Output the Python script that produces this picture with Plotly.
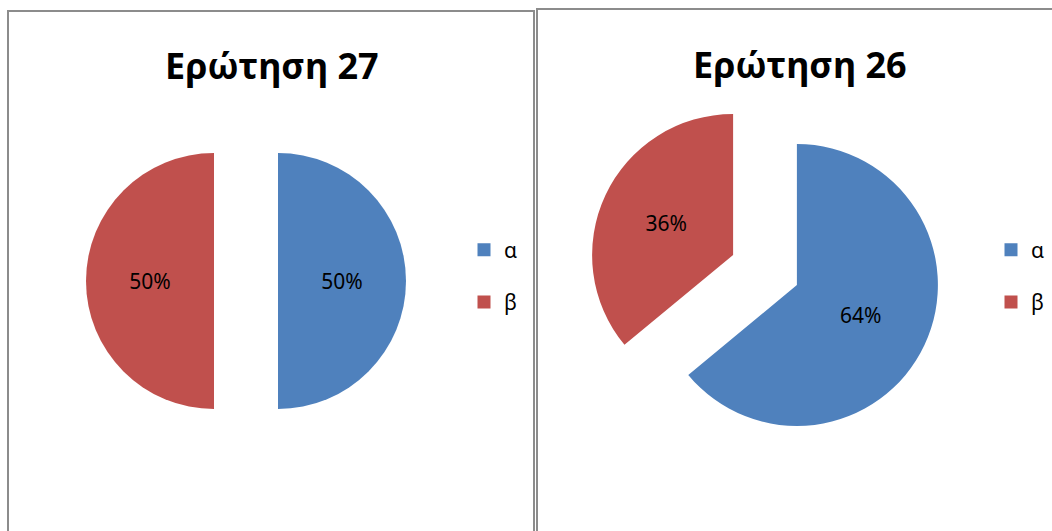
import plotly.graph_objects as go

labels = ["α", "β"]
q27_values = [50, 50]
q26_values = [64, 36]
titles = ["Ερώτηση 27", "Ερώτηση 26"]
colors = ["#4F81BD", "#C0504D"]

W, H = 1052, 531

def px_x(v):
    return v / W

def px_y(v):
    return 1 - v / H

fig = go.Figure()

pull = 0.25
label_font = dict(family="Noto Sans", size=21, color="#000000")

# Pie 1 (Ερώτηση 27)
r1 = 128
cx1, cy1 = 246, 281
half1 = r1 * (1 + pull)
fig.add_trace(go.Pie(
    labels=labels, values=q27_values, sort=False, direction="clockwise", rotation=0,
    pull=[pull, pull],
    marker=dict(colors=colors),
    texttemplate="%{percent:.0%}", textposition="inside", insidetextorientation="horizontal",
    textfont=label_font,
    domain=dict(x=[px_x(cx1 - half1), px_x(cx1 + half1)],
                y=[px_y(cy1 + half1), px_y(cy1 - half1)]),
    showlegend=False, hoverinfo="label+percent",
))

# Pie 2 (Ερώτηση 26)
r2 = 141
cx2, cy2 = 765, 270
half2 = r2 * (1 + pull)
fig.add_trace(go.Pie(
    labels=labels, values=q26_values, sort=False, direction="clockwise", rotation=0,
    pull=[pull, pull],
    marker=dict(colors=colors),
    texttemplate="%{percent:.0%}", textposition="inside", insidetextorientation="horizontal",
    textfont=label_font,
    domain=dict(x=[px_x(cx2 - half2), px_x(cx2 + half2)],
                y=[px_y(cy2 + half2), px_y(cy2 - half2)]),
    showlegend=False, hoverinfo="label+percent",
))

# Legend entries (one set per chart panel)
for legend_id in ["legend", "legend2"]:
    for lab, col in zip(labels, colors):
        fig.add_trace(go.Scatter(
            x=[None], y=[None], mode="markers", name=lab,
            marker=dict(symbol="square", size=13, color=col),
            legend=legend_id, legendgroup=legend_id + lab, showlegend=True,
            hoverinfo="skip",
        ))

border = dict(color="#8c8c8c", width=2)
shapes = [
    dict(type="rect", xref="paper", yref="paper", x0=px_x(8), x1=px_x(534), y0=-0.1, y1=px_y(11), line=border),
    dict(type="rect", xref="paper", yref="paper", x0=px_x(537), x1=1.1, y0=-0.1, y1=px_y(9), line=border),
]

title_font = dict(family="Noto Sans", size=36, color="#000000")
annotations = [
    dict(text="<b>" + titles[0] + "</b>", x=px_x(272), y=px_y(66), xref="paper", yref="paper",
         showarrow=False, xanchor="center", yanchor="middle", font=title_font),
    dict(text="<b>" + titles[1] + "</b>", x=px_x(800), y=px_y(65), xref="paper", yref="paper",
         showarrow=False, xanchor="center", yanchor="middle", font=title_font),
]

legend_font = dict(family="Noto Sans", size=21, color="#000000")
common_legend = dict(xanchor="left", yanchor="middle", font=legend_font,
                     bgcolor="rgba(0,0,0,0)", tracegroupgap=22, traceorder="grouped",
                     itemclick=False, itemdoubleclick=False)
fig.update_layout(
    width=W, height=H,
    margin=dict(l=0, r=0, t=0, b=0),
    paper_bgcolor="#ffffff", plot_bgcolor="#ffffff",
    xaxis=dict(visible=False), yaxis=dict(visible=False),
    shapes=shapes, annotations=annotations,
    legend=dict(x=px_x(464), y=px_y(276), **common_legend),
    legend2=dict(x=px_x(991), y=px_y(276), **common_legend),
)

fig.write_html("out.html", config={"displayModeBar": False},
               post_script="document.body.style.margin='0';")
